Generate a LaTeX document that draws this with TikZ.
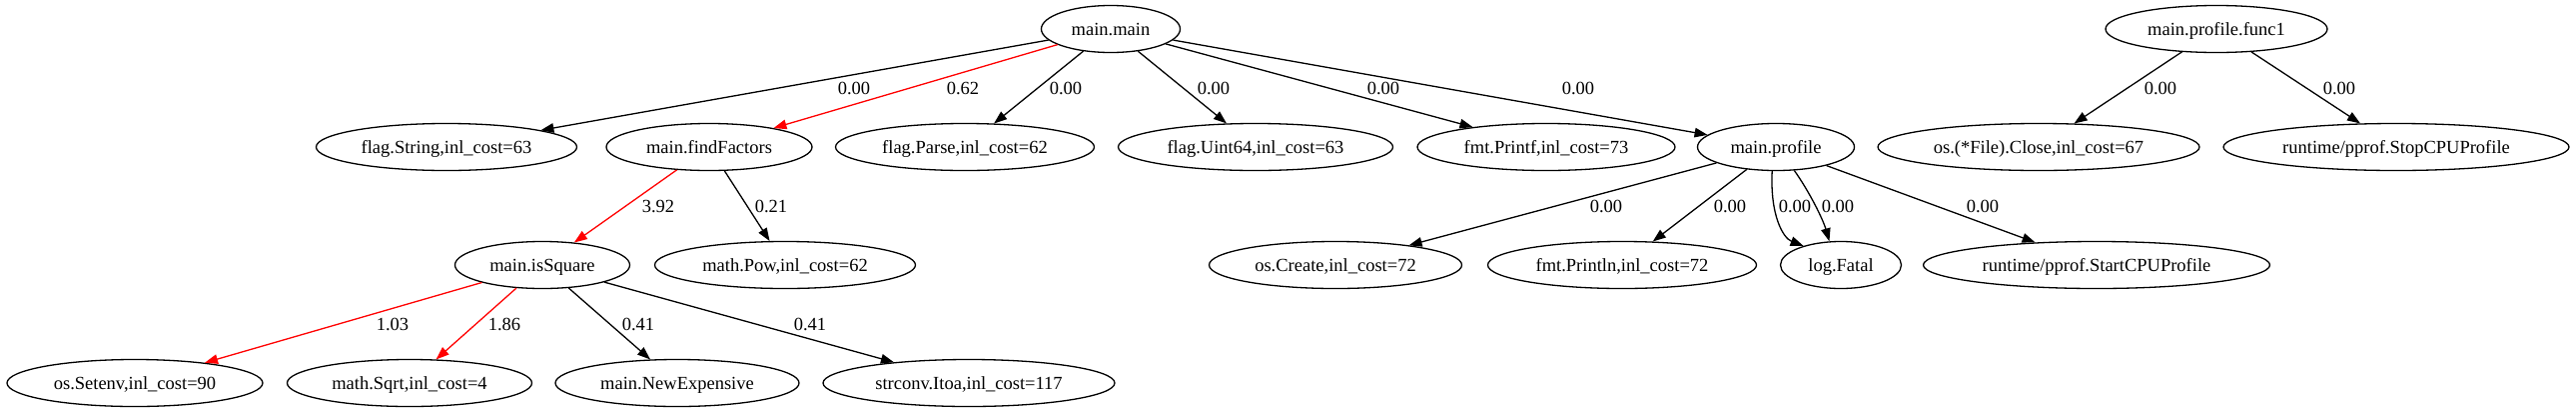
\documentclass[tikz,border=0pt]{standalone}
\usepackage{fontspec}
\setmainfont{Liberation Serif}
\usetikzlibrary{shapes.geometric,arrows.meta}
\begin{document}
\begin{tikzpicture}[x=1pt,y=-1pt,
  fn/.style={ellipse,draw,line width=1.3pt,inner sep=0pt,minimum height=47pt,
    font=\fontsize{18.5}{22}\selectfont,text height=13pt,text depth=0pt},
  lbl/.style={inner sep=0pt,font=\fontsize{18.5}{22}\selectfont,text height=13pt,text depth=0pt},
  cedge/.style={draw,line width=1.3pt,-{Triangle[length=13pt,width=9.5pt]}},
  hedge/.style={cedge,red}]
\useasboundingbox[fill=white] (0,0) rectangle (2579,413);
% nodes
\node[fn,minimum width=139pt] (mm) at (1112,29) {main.main};
\node[fn,minimum width=222pt] (pf1) at (2219,29) {main.profile.func1};
\node[fn,minimum width=261pt] (fs) at (447,147) {flag.String,inl\_cost=63};
\node[fn,minimum width=206pt] (ff) at (710,147) {main.findFactors};
\node[fn,minimum width=259pt] (fp) at (966,147) {flag.Parse,inl\_cost=62};
\node[fn,minimum width=275pt] (fu) at (1257,147) {flag.Uint64,inl\_cost=63};
\node[fn,minimum width=258pt] (fpf) at (1548,147) {fmt.Printf,inl\_cost=73};
\node[fn,minimum width=157pt] (mp) at (1778,147) {main.profile};
\node[fn,minimum width=322pt] (oc) at (2041,147) {os.(*File).Close,inl\_cost=67};
\node[fn,minimum width=346pt] (stop) at (2399,147) {runtime/pprof.StopCPUProfile};
\node[fn,minimum width=175pt] (sq) at (543,265) {main.isSquare};
\node[fn,minimum width=261pt] (pow) at (786,265) {math.Pow,inl\_cost=62};
\node[fn,minimum width=253pt] (cr) at (1337,265) {os.Create,inl\_cost=72};
\node[fn,minimum width=269pt] (pl) at (1624,265) {fmt.Println,inl\_cost=72};
\node[fn,minimum width=121pt] (lf) at (1843,265) {log.Fatal};
\node[fn,minimum width=347pt] (start) at (2099,265) {runtime/pprof.StartCPUProfile};
\node[fn,minimum width=256pt] (se) at (135,383) {os.Setenv,inl\_cost=90};
\node[fn,minimum width=245pt] (sqrt) at (410,383) {math.Sqrt,inl\_cost=4};
\node[fn,minimum width=244pt] (ne) at (678,383) {main.NewExpensive};
\node[fn,minimum width=292pt] (itoa) at (970,383) {strconv.Itoa,inl\_cost=117};
% edges
\draw[cedge] (mm) -- (fs);
\draw[hedge] (mm) -- (ff);
\draw[cedge] (mm) -- (fp);
\draw[cedge] (mm) -- (fu);
\draw[cedge] (mm) -- (fpf);
\draw[cedge] (mm) -- (mp);
\draw[cedge] (pf1) -- (oc);
\draw[cedge] (pf1) -- (stop);
\draw[hedge] (ff) -- (sq);
\draw[cedge] (ff) -- (pow);
\draw[cedge] (mp) -- (cr);
\draw[cedge] (mp) -- (pl);
\draw[cedge] (mp.-99) .. controls (1772,215) and (1785,238) .. (lf.153);
\draw[cedge] (mp.-52) .. controls (1811,191) and (1825,219) .. (lf.116);
\draw[cedge] (mp) -- (start);
\draw[hedge] (sq) -- (se);
\draw[hedge] (sq) -- (sqrt);
\draw[cedge] (sq) -- (ne);
\draw[cedge] (sq) -- (itoa);
% labels
\node[lbl] (l1) at (855,88) {0.00};
\node[lbl] (l2) at (964,88) {0.62};
\node[lbl] (l3) at (1067,88) {0.00};
\node[lbl] (l4) at (1215,88) {0.00};
\node[lbl] (l5) at (1385,88) {0.00};
\node[lbl] (l6) at (1580,88) {0.00};
\node[lbl] (l7) at (2163,88) {0.00};
\node[lbl] (l8) at (2342,88) {0.00};
\node[lbl] (l9) at (659,206) {3.92};
\node[lbl] (l10) at (772,206) {0.21};
\node[lbl] (l11) at (1608,206) {0.00};
\node[lbl] (l12) at (1732,206) {0.00};
\node[lbl] (l13) at (1797,206) {0.00};
\node[lbl] (l14) at (1840,206) {0.00};
\node[lbl] (l15) at (1985,206) {0.00};
\node[lbl] (l16) at (393,324) {1.03};
\node[lbl] (l17) at (505,324) {1.86};
\node[lbl] (l18) at (639,324) {0.41};
\node[lbl] (l19) at (811,324) {0.41};
\end{tikzpicture}
\end{document}
